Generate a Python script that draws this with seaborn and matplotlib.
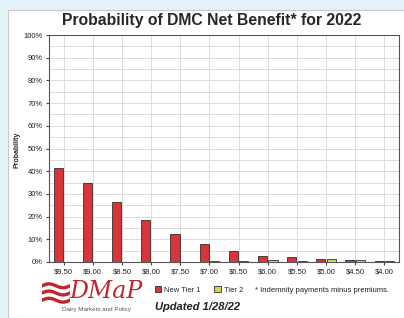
import matplotlib
matplotlib.use("Agg")
import matplotlib.pyplot as plt
import matplotlib.patches as mpatches
import numpy as np
import pandas as pd
import seaborn as sns

# Milk margin levels and probabilities (%)
prices = ["$9.50", "$9.00", "$8.50", "$8.00", "$7.50", "$7.00",
          "$6.50", "$6.00", "$5.50", "$5.00", "$4.50", "$4.00"]
tier1 = [41.5, 35.0, 26.5, 18.5, 12.4, 7.8, 4.7, 2.8, 2.2, 1.5, 0.7, 0.3]
tier2 = [0.0, 0.0, 0.0, 0.0, 0.0, 0.3, 0.3, 0.8, 0.3, 1.3, 0.8, 0.3]
series = ["New Tier 1", "Tier 2"]
colors = ["#d8343c", "#d6d64a"]

df = pd.DataFrame({
    "price": prices * 2,
    "prob": tier1 + tier2,
    "tier": [series[0]] * len(prices) + [series[1]] * len(prices),
})

sns.set_style("white")
plt.rcParams["font.family"] = ["Liberation Sans", "DejaVu Sans"]

fig = plt.figure(figsize=(4.04, 3.18), dpi=100, facecolor="#e4f2fa")
# white panel
panel = mpatches.Rectangle((8 / 404, 0), 1, 1 - 10 / 318,
                           transform=fig.transFigure, facecolor="white",
                           edgecolor="#c8c8c8", linewidth=0.8, zorder=-5)
fig.add_artist(panel)

ax = fig.add_axes([49 / 404, 1 - 262 / 318, 350 / 404, 227 / 318])
ax.set_zorder(2)
sns.barplot(data=df, x="price", y="prob", hue="tier", order=prices,
            palette=colors, saturation=1, width=0.72, gap=0.12,
            edgecolor="#3a2a2a", linewidth=0.6, ax=ax, legend=False, zorder=3)

ax.set_ylim(0, 100)
ax.set_yticks(np.arange(0, 101, 10))
ax.set_yticks(np.arange(0, 101, 5), minor=True)
ax.set_yticklabels([f"{v}%" for v in range(0, 101, 10)])
ax.grid(True, which="both", axis="y", color="#dcdcdc", linewidth=0.7, zorder=0)
ax.grid(True, which="major", axis="x", color="#dcdcdc", linewidth=0.7, zorder=0)
ax.set_axisbelow(True)
ax.tick_params(axis="both", which="major", labelsize=5.5, length=2.5,
               color="#444444", pad=2, labelcolor="#222222")
ax.tick_params(axis="y", which="minor", length=1.5, color="#444444")
ax.tick_params(left=True, bottom=True)
for s in ax.spines.values():
    s.set_color("#555555")
    s.set_linewidth(0.8)
ax.set_xlabel("")
ax.set_ylabel("")
fig.text(17 / 404, 1 - 150 / 318, "Probability", rotation=90, ha="center",
         va="center", fontsize=5, fontweight="bold")

fig.text(212 / 404, 1 - 21 / 318, "Probability of DMC Net Benefit* for 2022",
         ha="center", va="center", fontsize=11.3, fontweight="bold")

# legend
handles = [mpatches.Patch(facecolor=c, edgecolor="#3a2a2a", linewidth=0.6)
           for c in colors]
fig.legend(handles, series, loc="center left",
           bbox_to_anchor=(152 / 404, 1 - 290 / 318), ncol=2, frameon=False,
           fontsize=5.5, handlelength=0.8, handleheight=0.8,
           handletextpad=0.4, columnspacing=1.8, borderaxespad=0)
fig.text(255 / 404, 1 - 290 / 318, "* Indemnity payments minus premiums.",
         ha="left", va="center", fontsize=5.5, color="#222222")
fig.text(155 / 404, 1 - 307 / 318, "Updated 1/28/22", ha="left", va="center",
         fontsize=8, fontweight="bold", fontstyle="italic", color="#222222")

# DMaP logo
lax = fig.add_axes([42 / 404, 1 - 305 / 318, 28 / 404, 24 / 318])
lax.set_zorder(2)
t = np.linspace(0, 1, 50)
for k in range(3):
    lax.plot(t, 0.2 + 0.3 * k + 0.08 * np.sin(2 * np.pi * t), color="#c0272d",
             linewidth=2.4)
lax.set_xlim(0, 1)
lax.set_ylim(0, 1)
lax.axis("off")
fig.text(69 / 404, 1 - 292 / 318, "DMaP", ha="left", va="center",
         fontsize=17, color="#c0272d", family="DejaVu Serif", fontstyle="italic")
fig.text(62 / 404, 1 - 309 / 318, "Dairy Markets and Policy", ha="left",
         va="center", fontsize=4.5, color="#555555")

fig.savefig("out.png", dpi=100, facecolor=fig.get_facecolor())
